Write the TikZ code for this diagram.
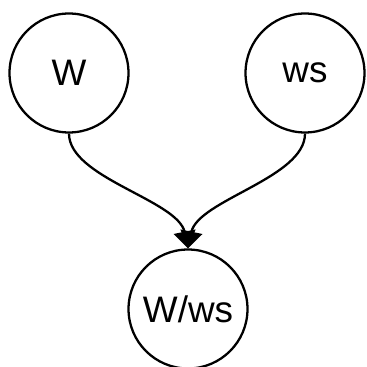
\documentclass[tikz,border=0pt]{standalone}
\usepackage{fontspec}
\setmainfont{Liberation Sans}
\usetikzlibrary{arrows.meta}
\begin{document}
\begin{tikzpicture}[x=0.02cm,y=-0.02cm]
\tikzstyle{vertex}=[draw,shape=circle,line width=1.3pt,minimum size=2.38cm,inner sep=0pt,font=\fontsize{21}{25}\selectfont]
\tikzstyle{edge}=[line width=1.3pt,-{Triangle[length=0.34cm,width=0.44cm]}]
\useasboundingbox (0,0) rectangle (366,367);
\path (69,73) node[vertex](w){W} (305,73) node[vertex](ws){ws};
\path (188,309) node[vertex](wws){W/ws};
\draw[edge] (w.south) .. controls (69,178) and (178,200) .. (wws.north);
\draw[edge] (ws.south) .. controls (305,178) and (198,200) .. (wws.north);
\end{tikzpicture}
\end{document}
